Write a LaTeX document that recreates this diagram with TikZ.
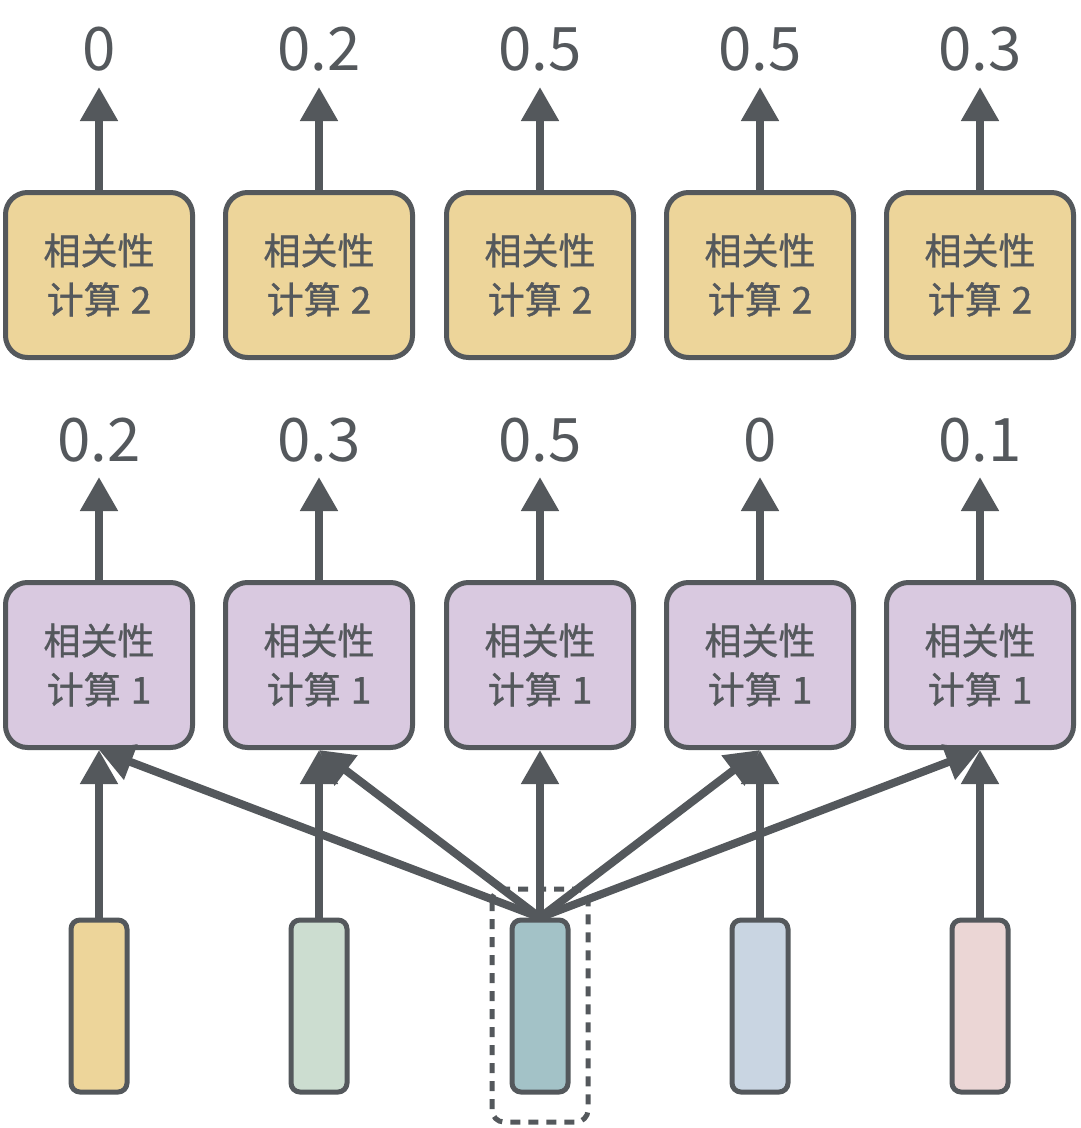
\documentclass[tikz,border=0pt]{standalone}
\usepackage{fontspec}
\setmainfont{Noto Sans CJK SC}
\newfontfamily\boxfont[FakeBold=0.9]{Noto Sans CJK SC}
\usetikzlibrary{arrows.meta}
\definecolor{dk}{HTML}{54585C}
\definecolor{yel}{HTML}{EDD59A}
\definecolor{pur}{HTML}{D9C9E0}
\definecolor{barA}{HTML}{EDD59A}
\definecolor{barB}{HTML}{CCDDD0}
\definecolor{barC}{HTML}{A3C2C7}
\definecolor{barD}{HTML}{C9D5E2}
\definecolor{barE}{HTML}{EBD6D5}
\begin{document}
\begin{tikzpicture}[x=1pt,y=-1pt,
  calcbox/.style={draw=dk, line width=5pt, rounded corners=22pt, minimum width=187pt, minimum height=165pt, inner sep=0pt, align=center, font=\boxfont\fontsize{37}{49}\selectfont, text=dk},
  calctwo/.style={calcbox, fill=yel},
  calcone/.style={calcbox, fill=pur},
  vecbar/.style={draw=dk, line width=5pt, rounded corners=9pt, minimum width=56pt, minimum height=172pt, inner sep=0pt},
  numlbl/.style={font=\fontsize{60}{60}\selectfont, text=dk, inner sep=0pt, anchor=base},
  arr/.style={draw=dk, line width=8pt, -{Triangle[length=34pt,width=36pt]}},
  sel/.style={draw=dk, line width=5pt, dash pattern=on 10pt off 8pt, rounded corners=12pt}
]
\useasboundingbox (0,0) rectangle (1080,1128);
\fill[white] (0,0) rectangle (1080,1128);

% dashed selection around the middle vector
\draw[sel] (492,889) rectangle (588,1122);

\foreach \i/\x/\c/\va/\vb in {1/99/barA/0/0.2, 2/319/barB/0.2/0.3, 3/540/barC/0.5/0.5, 4/760/barD/0.5/0, 5/980/barE/0.3/0.1} {
  \node[calctwo] (y\i) at (\x,275) {相关性\\计算\hspace{10pt}2};
  \node[calcone] (p\i) at (\x,665) {相关性\\计算\hspace{10pt}1};
  \node[vecbar, fill=\c] (v\i) at (\x,1006) {};
  \node[numlbl] (ta\i) at (\x,70) {\va};
  \node[numlbl] (tb\i) at (\x,461) {\vb};
  \coordinate (ha\i) at (\x,87);
  \coordinate (hb\i) at (\x,477);
  \draw[arr] (y\i.north) -- (ha\i);
  \draw[arr] (p\i.north) -- (hb\i);
  \draw[arr] (v\i.north) -- (p\i.south);
}
\foreach \i in {1,2,4,5} {
  \draw[arr] (v3.north) -- (p\i.south);
}
\end{tikzpicture}
\end{document}
